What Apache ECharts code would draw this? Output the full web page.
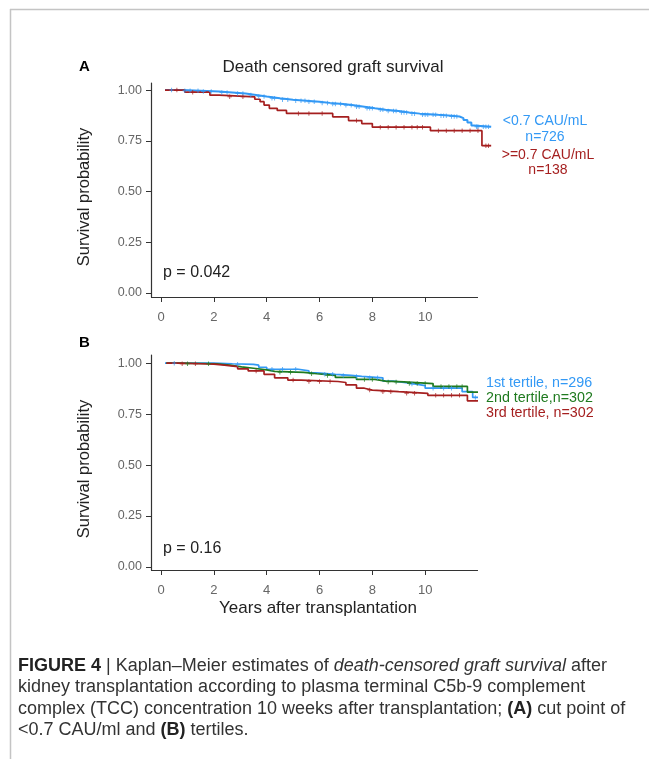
<!DOCTYPE html>
<html>
<head>
<meta charset="utf-8">
<script src="https://cdn.jsdelivr.net/npm/echarts@6/dist/echarts.min.js"></script>
<style>
  html, body { margin: 0; padding: 0; background: #fff; }
  #chart { width: 649px; height: 759px; }
</style>
</head>
<body>
<div id="chart"></div>
<script>
// ---------- data ----------
const xTicks = [0, 2, 4, 6, 8, 10];
const yTicks = [0, 0.25, 0.5, 0.75, 1];
const xAxisEnd = 12.0;   // where the drawn x axis line stops

// Panel A: Kaplan-Meier steps [years, survival]
const aLowSteps = [[0.15,1.0],[0.8,0.997],[1.5,0.993],[2.2,0.988],[2.7,0.983],[3.2,0.976],[3.6,0.968],[4.0,0.96],[4.5,0.953],[5.0,0.948],[5.5,0.942],[6.0,0.937],[6.4,0.931],[6.9,0.925],[7.3,0.918],[7.7,0.91],[8.1,0.903],[8.5,0.897],[9.0,0.89],[9.4,0.884],[9.8,0.878],[10.5,0.874],[11.0,0.87],[11.3,0.862],[11.45,0.852],[11.6,0.84],[11.75,0.826],[11.85,0.819],[12.5,0.819]];
const aHighSteps = [[0.15,1.0],[0.9,0.99],[1.85,0.975],[2.2,0.967],[3.55,0.955],[3.75,0.943],[3.9,0.926],[4.1,0.91],[4.4,0.9],[4.75,0.885],[6.5,0.868],[7.1,0.85],[7.6,0.835],[8.0,0.817],[10.2,0.80],[12.15,0.726],[12.5,0.726]];
const aLowCensor = [0.4,0.9,1.1,1.4,1.6,1.9,2.3,2.5,2.9,3.1,3.4,3.7,3.9,4.2,4.3,4.6,4.8,5.1,5.3,5.45,5.6,5.8,6.1,6.3,6.5,6.6,6.8,7.0,7.2,7.4,7.5,7.8,7.9,8.0,8.3,8.4,8.6,8.8,8.9,9.1,9.2,9.3,9.5,9.6,9.9,10.0,10.1,10.3,10.4,10.6,10.7,10.8,11.0,11.1,11.2,11.95,12.0,12.2,12.3,12.4];
const aHighCensor = [0.6,1.2,2.6,3.1,5.2,5.6,6.1,7.4,8.3,8.6,8.9,9.2,9.5,9.7,9.9,10.5,10.8,11.1,11.4,11.7,12.0,12.3,12.4];
const aGroupLabels = ['<0.7 CAU/mL', 'n=726', '>=0.7 CAU/mL', 'n=138'];
const aPValue = 'p = 0.042';

// Panel B: tertiles
const bT1Steps = [[0.15,1.0],[2.0,0.997],[2.7,0.994],[3.5,0.99],[3.7,0.98],[4.0,0.97],[5.2,0.962],[5.6,0.952],[5.9,0.945],[6.6,0.94],[7.2,0.935],[7.6,0.928],[8.4,0.912],[8.8,0.905],[9.2,0.898],[9.6,0.89],[10.0,0.877],[11.4,0.86],[11.8,0.832],[12.0,0.832]];
const bT2Steps = [[0.2,1.0],[0.6,0.997],[2.1,0.99],[2.6,0.982],[3.05,0.975],[3.5,0.967],[4.0,0.96],[4.3,0.955],[5.4,0.948],[5.9,0.94],[6.6,0.93],[7.4,0.92],[8.1,0.912],[8.5,0.908],[9.2,0.9],[10.3,0.886],[11.6,0.858],[12.0,0.858]];
const bT3Steps = [[0.2,1.0],[0.6,0.997],[1.5,0.995],[2.0,0.99],[2.4,0.983],[2.9,0.972],[3.3,0.962],[3.9,0.945],[4.3,0.928],[4.8,0.917],[5.3,0.91],[6.7,0.905],[7.0,0.893],[7.4,0.877],[7.7,0.868],[8.0,0.86],[9.0,0.852],[10.1,0.842],[11.6,0.815],[12.0,0.815]];
const bT1Censor = [0.5,2.9,4.2,4.6,5.1,6.2,6.5,6.9,7.4,7.9,8.2,9.5,10.3,10.7,11.0,11.9];
const bT2Censor = [1.0,1.8,4.5,4.9,5.7,6.3,7.7,8.0,8.6,8.9,9.4,9.7,10.0,10.6,10.9,11.2,11.4];
const bT3Censor = [0.8,1.3,3.6,5.0,5.6,6.0,6.4,7.9,8.4,8.7,9.3,9.6,10.4,10.7,11.0,11.3];
const bGroupLabels = ['1st tertile, n=296', '2nd tertile,n=302', '3rd tertile, n=302'];
const bPValue = 'p = 0.16';

const panelLetters = ['A', 'B'];
const titleText = 'Death censored graft survival';
const yAxisTitle = 'Survival probability';
const xAxisTitle = 'Years after transplantation';

// ---------- styling ----------
const BLUE = '#3399f5', RED = '#a51f1f', GREEN = '#1f7a1f';
const FONT = '"Liberation Sans", Arial, Helvetica, sans-serif';
const X_MIN = -0.38, X_MAX = 12.55;
const Y_RANGE = [[-0.02, 1.035], [-0.015, 1.04]];

function survAt(steps, t) {
  let v = steps[0][1];
  for (const s of steps) { if (s[0] <= t) v = s[1]; else break; }
  return v;
}
function censorPts(steps, times) { return times.map(t => [t, survAt(steps, t)]); }

const crossPath = 'path://M-0.2,-1H0.2V-0.2H1V0.2H0.2V1H-0.2V0.2H-1V-0.2H-0.2Z';

function kmLine(name, steps, color, idx, withAxis, width) {
  const s = { name, type: 'line', step: 'end', data: steps, xAxisIndex: idx, yAxisIndex: idx,
    showSymbol: false, symbol: 'none', clip: false, silent: true,
    lineStyle: { color, width: width || 1.7 }, z: 3 };
  if (withAxis) {
    const y0 = Y_RANGE[idx][0];
    s.markLine = { silent: true, symbol: 'none', label: { show: false },
      lineStyle: { color: '#333', width: 1.2, type: 'solid' },
      data: [[{ coord: [X_MIN, y0] }, { coord: [xAxisEnd, y0] }]] };
  }
  return s;
}
function kmCensor(name, steps, times, color, idx) {
  return { name: name + ' censored', type: 'scatter', data: censorPts(steps, times), xAxisIndex: idx, yAxisIndex: idx,
    symbol: crossPath, symbolSize: 4.5, clip: false, silent: true,
    itemStyle: { color }, z: 4 };
}

function xAx(idx) {
  return { gridIndex: idx, type: 'value', min: X_MIN, max: X_MAX,
    axisLine: { show: false, onZero: false },
    axisTick: { show: true, customValues: xTicks, length: 5, lineStyle: { color: '#333' } },
    axisLabel: { customValues: xTicks, color: '#666', fontSize: 13, fontFamily: FONT, margin: 14 },
    splitLine: { show: false } };
}
function yAx(idx) {
  return { gridIndex: idx, type: 'value', min: Y_RANGE[idx][0], max: Y_RANGE[idx][1],
    axisLine: { show: true, onZero: false, lineStyle: { color: '#333', width: 1.2 } },
    axisTick: { show: true, customValues: yTicks, length: 5, lineStyle: { color: '#333' } },
    axisLabel: { customValues: yTicks, color: '#666', fontSize: 12.5, fontFamily: FONT, margin: 9,
      formatter: v => v.toFixed(2) },
    splitLine: { show: false } };
}

function txt(x, y, text, opts) {
  return { type: 'text', x, y, style: Object.assign({ text, fontFamily: FONT, fill: '#222', fontSize: 14,
    align: 'left', verticalAlign: 'middle' }, opts || {}) };
}

const chart = echarts.init(document.getElementById('chart'), null, { renderer: 'canvas' });

const graphics = [
  { type: 'line', shape: { x1: 10, y1: 9.5, x2: 649, y2: 9.5 }, style: { stroke: '#c4c4c4', lineWidth: 1.5 } },
  { type: 'line', shape: { x1: 10.5, y1: 9, x2: 10.5, y2: 759 }, style: { stroke: '#c4c4c4', lineWidth: 1.5 } },
  txt(79, 67, panelLetters[0], { fontWeight: 'bold', fontSize: 15, fill: '#000' }),
  txt(79, 343, panelLetters[1], { fontWeight: 'bold', fontSize: 15, fill: '#000' }),
  txt(333, 67, titleText, { align: 'center', fontSize: 17 }),
  { type: 'text', x: 84, y: 197, rotation: Math.PI / 2,
    style: { text: yAxisTitle, fontFamily: FONT, fill: '#222', fontSize: 16.5, align: 'center', verticalAlign: 'middle' } },
  { type: 'text', x: 84, y: 469, rotation: Math.PI / 2,
    style: { text: yAxisTitle, fontFamily: FONT, fill: '#222', fontSize: 16.5, align: 'center', verticalAlign: 'middle' } },
  txt(163, 273, aPValue, { fontSize: 16 }),
  txt(163, 549, bPValue, { fontSize: 16 }),
  txt(318, 608, xAxisTitle, { align: 'center', fontSize: 17 }),
  txt(545, 121, aGroupLabels[0], { align: 'center', fill: BLUE, fontSize: 14 }),
  txt(545, 137, aGroupLabels[1], { align: 'center', fill: BLUE, fontSize: 14 }),
  txt(548, 155, aGroupLabels[2], { align: 'center', fill: RED, fontSize: 14 }),
  txt(548, 170, aGroupLabels[3], { align: 'center', fill: RED, fontSize: 14 }),
  txt(486, 383, bGroupLabels[0], { fill: BLUE, fontSize: 14.3 }),
  txt(486, 398, bGroupLabels[1], { fill: GREEN, fontSize: 14.3 }),
  txt(486, 413, bGroupLabels[2], { fill: RED, fontSize: 14.3 }),
  { type: 'text', x: 18, y: 655,
    style: {
      text: '{b|FIGURE 4} | Kaplan–Meier estimates of {i|death-censored graft survival} after\n' +
            'kidney transplantation according to plasma terminal C5b-9 complement\n' +
            'complex (TCC) concentration 10 weeks after transplantation; {b|(A)} cut point of\n' +
            '<0.7 CAU/ml and {b|(B)} tertiles.',
      fontFamily: FONT, fontSize: 18, fill: '#333', lineHeight: 21.5,
      rich: {
        b: { fontWeight: 'bold', fontFamily: FONT, fontSize: 18, fill: '#222', lineHeight: 21.5 },
        i: { fontStyle: 'italic', fontFamily: FONT, fontSize: 18, fill: '#333', lineHeight: 21.5 }
      }
    } }
];

const gridW = 341.5;
chart.setOption({
  animation: false,
  backgroundColor: '#fff',
  grid: [
    { left: 151, top: 83, width: gridW, height: 214 },
    { left: 151, top: 355, width: gridW, height: 215 }
  ],
  xAxis: [xAx(0), xAx(1)],
  yAxis: [yAx(0), yAx(1)],
  series: [
    kmLine('<0.7 CAU/mL', aLowSteps, BLUE, 0, true, 2),
    kmCensor('<0.7 CAU/mL', aLowSteps, aLowCensor, BLUE, 0),
    kmLine('>=0.7 CAU/mL', aHighSteps, RED, 0, false),
    kmCensor('>=0.7 CAU/mL', aHighSteps, aHighCensor, RED, 0),
    kmLine('1st tertile', bT1Steps, BLUE, 1, true),
    kmCensor('1st tertile', bT1Steps, bT1Censor, BLUE, 1),
    kmLine('2nd tertile', bT2Steps, GREEN, 1, false),
    kmCensor('2nd tertile', bT2Steps, bT2Censor, GREEN, 1),
    kmLine('3rd tertile', bT3Steps, RED, 1, false),
    kmCensor('3rd tertile', bT3Steps, bT3Censor, RED, 1)
  ],
  graphic: graphics
});
</script>
</body>
</html>
